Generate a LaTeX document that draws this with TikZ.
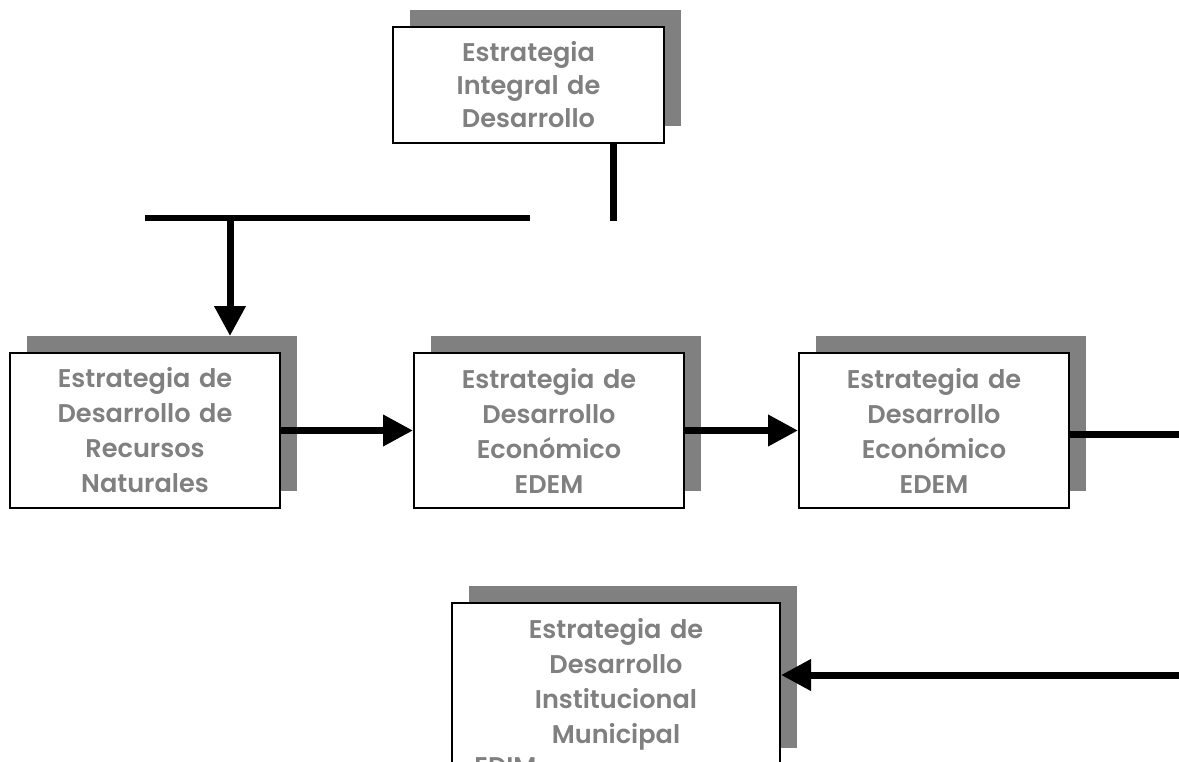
\documentclass[tikz,border=0pt]{standalone}
\usepackage{fontspec}
\setmainfont{Poppins}[BoldFont={Poppins SemiBold}]
\usetikzlibrary{arrows.meta,positioning,shadows}
\definecolor{boxgray}{HTML}{808080}
\definecolor{textgray}{HTML}{808080}

\begin{document}
\begin{tikzpicture}[
  x=0.5pt,
  y=-0.5pt,
  box/.style={
    rectangle,
    draw=black,
    line width=1pt,
    fill=white,
    text=textgray,
    minimum width=135pt,
    minimum height=77.5pt,
    text width=126pt,
    inner sep=0pt,
    font=\fontsize{12.8pt}{17.5pt}\selectfont\bfseries,
    align=center,
    drop shadow={shadow xshift=8.5pt, shadow yshift=8.5pt, fill=boxgray, opacity=1}
  },
  line/.style={
    draw=black,
    line width=3.5pt
  },
  arrow/.style={
    line,
    -{Triangle[length=15pt,width=15pt]}
  }
]

\clip (0,0) rectangle (1179,761);

\node[box, minimum width=135.5pt, minimum height=58pt, font=\fontsize{12.8pt}{16.5pt}\selectfont\bfseries] (integral) at (528.5,85) {Estrategia\\Integral de\\Desarrollo};
\node[box] (naturales) at (145,430.5) {Estrategia de\\Desarrollo de\\Recursos\\Naturales};
\node[box, right=66pt of naturales] (economico) {Estrategia de\\Desarrollo\\Económico\\EDEM};
\node[box, right=56.5pt of economico] (edem) {Estrategia de\\Desarrollo\\Económico\\EDEM};
\node[box, minimum width=164pt, minimum height=81pt] (institucional) at (616,684) {Estrategia de\\Desarrollo\\Institucional\\Municipal};
\node[anchor=west, inner sep=0pt, text=textgray, font=\fontsize{12.8pt}{17.5pt}\selectfont\bfseries] (edim) at (474,767) {EDIM};

% free ends
\coordinate (drop) at (613,221);
\coordinate (barl) at (145,218);
\coordinate (barr) at (530,218);
\coordinate (fork) at (230,218);
\coordinate (outr) at (1180,434);
\coordinate (inr) at (1180,675);

\draw[line] (integral.south -| drop) -- (drop);
\draw[line, line width=3pt] (barl) -- (barr);
\draw[arrow] (fork) -- ([yshift=8pt]fork |- naturales.north);
\draw[arrow] (naturales) -- (economico);
\draw[arrow] (economico) -- (edem);
\draw[line] (edem.east |- outr) -- (outr);
\draw[arrow] (inr) -- (institucional.east |- inr);

\end{tikzpicture}
\end{document}
